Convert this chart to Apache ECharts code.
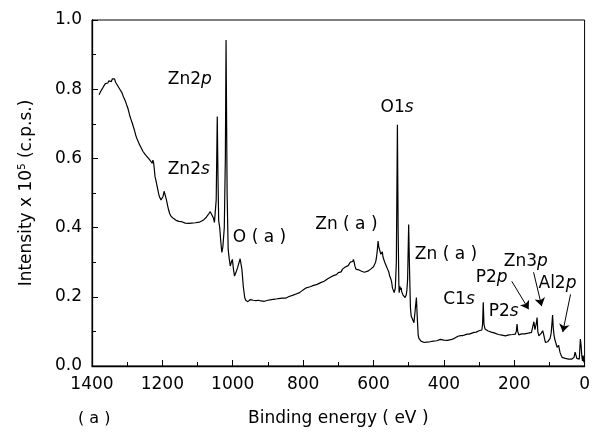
<!DOCTYPE html>
<html><head><meta charset="utf-8">
<script src="https://cdn.jsdelivr.net/npm/echarts@6/dist/echarts.min.js"></script>
<style>html,body{margin:0;padding:0;background:#fff}#c{width:593px;height:432px}</style>
</head><body><div id="c"></div>
<script>
// Binding energy (eV), intensity (x10^5 c.p.s.)
var spectrum = [
[1380,0.784],[1378,0.788],[1376,0.786],[1374,0.796],[1372,0.80],[1370,0.798],[1367,0.808],[1365,0.812],[1362,0.816],[1360,0.818],[1357,0.812],[1355,0.818],[1352,0.824],[1350,0.822],[1347,0.828],[1345,0.822],[1342,0.83],[1340,0.835],[1338,0.826],[1336,0.83],[1333,0.82],[1330,0.816],[1327,0.81],[1324,0.806],[1321,0.80],[1318,0.795],[1315,0.79],[1311,0.779],[1308,0.775],[1305,0.765],[1302,0.756],[1298,0.745],[1295,0.733],[1292,0.721],[1289,0.712],[1285,0.700],[1282,0.690],[1279,0.680],[1276,0.668],[1273,0.659],[1270,0.652],[1266,0.642],[1263,0.636],[1260,0.630],[1257,0.626],[1255,0.620],[1252,0.617],[1248,0.610],[1245,0.606],[1242,0.603],[1240,0.600],[1237,0.597],[1235,0.595],[1232,0.592],[1229,0.586],[1227,0.595],[1225,0.588],[1223,0.570],[1221,0.548],[1218,0.535],[1215,0.52],[1212,0.505],[1210,0.495],[1207,0.486],[1204,0.480],[1201,0.484],[1198,0.49],[1195,0.505],[1193,0.500],[1191,0.49],[1188,0.478],[1185,0.463],[1182,0.450],[1179,0.440],[1175,0.432],[1172,0.428],[1168,0.426],[1165,0.422],[1161,0.421],[1157,0.420],[1153,0.418],[1150,0.419],[1145,0.417],[1140,0.416],[1135,0.413],[1130,0.414],[1126,0.412],[1122,0.414],[1117,0.413],[1112,0.412],[1106,0.414],[1100,0.415],[1094,0.416],[1089,0.418],[1084,0.421],[1080,0.424],[1075,0.43],[1071,0.434],[1068,0.44],[1064,0.446],[1061,0.44],[1058,0.436],[1055,0.428],[1052,0.415],[1049,0.41],[1047,0.48],[1044,0.721],[1042,0.55],[1040,0.42],[1037,0.40],[1034,0.36],[1031,0.328],[1028,0.345],[1024,0.40],[1021,0.60],[1019,0.942],[1016,0.50],[1013,0.337],[1010,0.31],[1007,0.289],[1004,0.30],[1001,0.308],[998,0.28],[995,0.26],[991,0.27],[986,0.285],[982,0.289],[979,0.31],[977,0.313],[974,0.28],[970,0.23],[966,0.198],[963,0.19],[960,0.192],[957,0.186],[953,0.19],[950,0.192],[946,0.188],[942,0.19],[938,0.187],[934,0.189],[930,0.188],[926,0.19],[920,0.188],[915,0.19],[910,0.187],[905,0.189],[900,0.19],[895,0.189],[890,0.192],[885,0.191],[880,0.193],[875,0.192],[870,0.195],[865,0.194],[860,0.196],[855,0.197],[850,0.196],[845,0.199],[840,0.201],[835,0.203],[830,0.204],[825,0.207],[820,0.208],[815,0.21],[810,0.212],[805,0.216],[800,0.22],[795,0.222],[791,0.226],[786,0.227],[780,0.229],[775,0.232],[770,0.233],[765,0.236],[760,0.236],[755,0.239],[750,0.241],[745,0.244],[740,0.245],[735,0.249],[730,0.252],[725,0.254],[720,0.258],[716,0.260],[712,0.262],[708,0.266],[705,0.264],[700,0.27],[695,0.274],[692,0.272],[688,0.28],[684,0.282],[680,0.286],[676,0.284],[672,0.29],[669,0.292],[666,0.30],[662,0.296],[659,0.302],[657,0.308],[655,0.30],[653,0.29],[650,0.28],[646,0.281],[642,0.278],[638,0.277],[634,0.274],[630,0.272],[626,0.271],[621,0.27],[616,0.274],[612,0.278],[608,0.280],[604,0.285],[600,0.287],[597,0.292],[594,0.30],[592,0.31],[589,0.335],[587,0.361],[585,0.345],[583,0.35],[581,0.33],[579,0.323],[577,0.328],[575,0.33],[573,0.315],[571,0.318],[568,0.30],[566,0.305],[564,0.29],[562,0.292],[560,0.28],[558,0.283],[556,0.27],[554,0.26],[552,0.255],[550,0.25],[548,0.24],[546,0.225],[544,0.22],[541,0.212],[538,0.225],[535,0.30],[532,0.697],[530,0.40],[528,0.24],[527,0.212],[525,0.23],[523,0.22],[521,0.226],[520,0.215],[518,0.21],[516,0.205],[514,0.208],[512,0.2],[510,0.198],[507,0.205],[505,0.22],[503,0.25],[500,0.409],[498,0.30],[495,0.17],[493,0.145],[491,0.14],[489,0.135],[487,0.13],[485,0.125],[483,0.121],[480,0.13],[478,0.198],[476,0.15],[473,0.09],[471,0.08],[468,0.075],[465,0.072],[461,0.07],[456,0.068],[450,0.069],[445,0.068],[440,0.070],[435,0.07],[430,0.072],[425,0.071],[420,0.073],[415,0.075],[410,0.077],[405,0.076],[400,0.075],[395,0.072],[390,0.074],[385,0.073],[380,0.076],[375,0.078],[370,0.08],[365,0.083],[360,0.086],[357,0.087],[352,0.088],[346,0.088],[340,0.09],[334,0.092],[328,0.092],[320,0.095],[314,0.097],[308,0.098],[300,0.102],[296,0.103],[292,0.104],[290,0.12],[288,0.184],[286,0.12],[283,0.107],[278,0.104],[274,0.101],[270,0.1],[265,0.098],[260,0.096],[255,0.095],[250,0.093],[245,0.091],[240,0.09],[235,0.089],[230,0.088],[225,0.087],[220,0.088],[215,0.09],[210,0.09],[205,0.091],[200,0.093],[197,0.092],[194,0.10],[192,0.121],[190,0.10],[187,0.09],[183,0.091],[179,0.093],[175,0.092],[170,0.093],[165,0.095],[160,0.095],[155,0.096],[151,0.097],[148,0.098],[146,0.10],[144,0.128],[143,0.131],[141,0.105],[139,0.11],[137,0.125],[135,0.14],[133,0.10],[130,0.087],[128,0.088],[125,0.09],[123,0.095],[121,0.097],[119,0.102],[117,0.094],[115,0.085],[113,0.075],[111,0.068],[108,0.07],[105,0.07],[101,0.075],[98,0.08],[95,0.095],[93,0.12],[91,0.147],[89,0.11],[87,0.09],[85,0.078],[82,0.068],[80,0.06],[78,0.054],[76,0.058],[74,0.06],[72,0.05],[70,0.04],[67,0.032],[64,0.025],[60,0.024],[55,0.022],[50,0.021],[45,0.02],[40,0.019],[36,0.02],[32,0.022],[30,0.025],[27,0.04],[25,0.035],[22,0.022],[20,0.02],[17,0.018],[15,0.02],[13,0.06],[12,0.078],[10,0.06],[8,0.03],[6,0.015],[4,0.03],[2,0.012],[1,0.01]
];
// peak labels: [text, BE, intensity]
var peakLabels = [
['Zn2{i|p}',1122,0.827],['Zn2{i|s}',1125,0.568],['O ( a )',924,0.372],['Zn ( a )',677,0.409],
['O1{i|s}',533,0.746],['Zn ( a )',394,0.323],['C1{i|s}',357,0.193],['P2{i|s}',230,0.156],
['P2{i|p}',264,0.256],['Zn3{i|p}',167,0.303],['Al2{i|p}',77,0.239]
];
// arrows: [fromBE, fromI, toBE, toI]
var arrows = [[207,0.245,159,0.164],[145,0.271,122,0.173],[40,0.207,62,0.098]];
var xTicks = {min:0, max:1400, interval:200};
var yTicks = {min:0, max:1, interval:0.2};

var FONT = 'DejaVu Sans';
var chart = echarts.init(document.getElementById('c'), null, {renderer:'canvas'});
var rich = {i:{fontStyle:'italic', fontFamily:FONT, fontSize:17, color:'#000'}};
chart.setOption({
  animation:false,
  grid:{left:92,right:7,top:20,bottom:65,show:true,borderColor:'#000',borderWidth:1},
  xAxis:{type:'value',inverse:true,min:xTicks.min,max:xTicks.max,interval:xTicks.interval,
    name:'Binding energy ( eV )',nameLocation:'middle',nameGap:44,
    nameTextStyle:{fontFamily:FONT,fontSize:17,color:'#000'},
    axisLine:{onZero:false,lineStyle:{color:'#000',width:1.3}},
    axisTick:{inside:true,length:6,lineStyle:{color:'#000'}},
    minorTick:{show:true,splitNumber:2,length:4,lineStyle:{color:'#000'}},
    splitLine:{show:false},
    axisLabel:{fontFamily:FONT,fontSize:17,color:'#000',margin:10,formatter:function(v){return String(v);}}},
  yAxis:{type:'value',min:yTicks.min,max:yTicks.max,interval:yTicks.interval,
    name:'Intensity x 10{sup|5} (c.p.s.)',nameLocation:'middle',nameGap:55,nameRotate:90,
    nameTextStyle:{fontFamily:FONT,fontSize:17,color:'#000',
      rich:{sup:{fontFamily:FONT,fontSize:10,color:'#000',padding:[0,0,10,0]}}},
    axisLine:{show:true,onZero:false,lineStyle:{color:'#000',width:1.3}},
    axisTick:{inside:true,length:6,lineStyle:{color:'#000'}},
    minorTick:{show:true,splitNumber:2,length:4,lineStyle:{color:'#000'}},
    splitLine:{show:false},
    axisLabel:{fontFamily:FONT,fontSize:17,color:'#000',margin:10,formatter:function(v){return v.toFixed(1);}}},
  graphic:[{type:'text',left:78,top:411,style:{text:'( a )',font:'16px "DejaVu Sans"',fill:'#000'}}],
  series:[{
    type:'line',data:spectrum,showSymbol:false,symbol:'none',
    lineStyle:{color:'#000',width:1.2},
    markPoint:{symbol:'circle',symbolSize:1,itemStyle:{color:'rgba(0,0,0,0)'},
      label:{show:true,position:'inside',fontFamily:FONT,fontSize:17,color:'#000',rich:rich},
      data:peakLabels.map(function(p){return {coord:[p[1],p[2]],label:{formatter:p[0]}};})},
    markLine:{silent:true,symbol:['none','arrow'],symbolSize:8,
      lineStyle:{color:'#000',width:1,type:'solid'},label:{show:false},
      data:arrows.map(function(a){return [{coord:[a[0],a[1]]},{coord:[a[2],a[3]]}];})}
  }]
});
</script></body></html>
